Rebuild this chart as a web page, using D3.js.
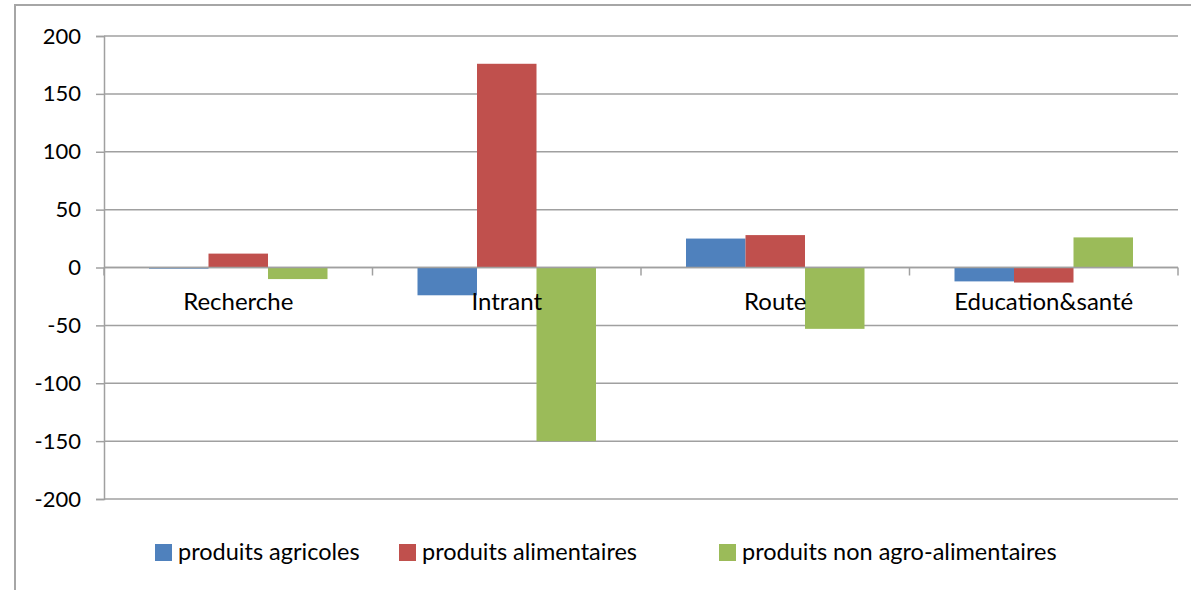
<!DOCTYPE html>
<html>
<head>
<meta charset="utf-8">
<script src="https://cdn.jsdelivr.net/npm/d3@7"></script>
<style>
  body { margin: 0; background: #fff; }
  svg { display: block; font-family: Lato, "Open Sans", sans-serif; }
</style>
</head>
<body>
<div id="Graph"></div>
<script>
// data
const categories = ["Recherche", "Intrant", "Route", "Education&santé"];
const series = ["produits agricoles", "produits alimentaires", "produits non agro-alimentaires"];
const agricoles = [-1, -24, 25, -12];
const alimentaires = [12, 176, 28, -13];
const nonAgro = [-10, -150, -53, 26];
const yTicks = [200, 150, 100, 50, 0, -50, -100, -150, -200];
const colors = ["#4f81bd", "#c0504d", "#9bbb59"];

const values = [agricoles, alimentaires, nonAgro];

const width = 1191;
const height = 590;

const svg = d3.select("#Graph").append("svg")
              .attr("width", width)
              .attr("height", height);

// outer frame (runs off the right and bottom edge)
svg.append("rect")
   .attr("x", 15)
   .attr("y", 5)
   .attr("width", 1200)
   .attr("height", 600)
   .attr("fill", "none")
   .attr("stroke", "#a6a6a6")
   .attr("stroke-width", 2);

const plotLeft = 104, plotRight = 1178;

const y = d3.scaleLinear()
            .domain([-200, 200])
            .range([499, 36]);

const x0 = d3.scaleBand()
             .domain(categories)
             .range([plotLeft, plotRight]);

const x1 = d3.scaleBand()
             .domain(series)
             .range([45, x0.bandwidth() - 45]);

// gridlines + left axis
const yAxis = svg.append("g")
   .attr("transform", `translate(${plotLeft},0)`)
   .call(d3.axisLeft(y)
           .tickValues(yTicks)
           .tickSize(8)
           .tickPadding(15)
           .tickFormat(d => d));
yAxis.select(".domain").attr("stroke", "#a0a0a0").attr("stroke-width", 1.5);
yAxis.selectAll(".tick line").attr("stroke", "#a0a0a0").attr("stroke-width", 1.5);
yAxis.selectAll(".tick text")
     .attr("font-size", 22)
     .attr("fill", "#000")
     .attr("font-family", "Lato, sans-serif");

svg.append("g")
   .selectAll("line")
   .data(yTicks)
   .enter().append("line")
   .attr("x1", plotLeft)
   .attr("x2", plotRight)
   .attr("y1", d => y(d))
   .attr("y2", d => y(d))
   .attr("stroke", "#a0a0a0")
   .attr("stroke-width", 1.5);

// bars
const groups = svg.append("g")
   .selectAll("g")
   .data(categories)
   .enter().append("g")
   .attr("transform", d => `translate(${x0(d)},0)`);

groups.selectAll("rect")
   .data((c, i) => series.map((s, j) => ({ s: s, v: values[j][i], color: colors[j] })))
   .enter().append("rect")
   .attr("x", d => x1(d.s))
   .attr("width", x1.bandwidth())
   .attr("y", d => y(Math.max(0, d.v)))
   .attr("height", d => Math.abs(y(d.v) - y(0)))
   .attr("fill", d => d.color);

// category axis along zero
const xAxis = svg.append("g")
   .attr("transform", `translate(0,${y(0)})`);
xAxis.append("line")
   .attr("x1", plotLeft).attr("x2", plotRight)
   .attr("stroke", "#a0a0a0").attr("stroke-width", 1.5);
xAxis.selectAll(".cat-tick")
   .data(categories.map(c => x0(c)).concat([plotRight]))
   .enter().append("line")
   .attr("x1", d => d).attr("x2", d => d)
   .attr("y1", 0).attr("y2", 8)
   .attr("stroke", "#a0a0a0").attr("stroke-width", 1.5);
xAxis.selectAll("text")
   .data(categories)
   .enter().append("text")
   .attr("x", d => x0(d) + x0.bandwidth() / 2)
   .attr("y", 42)
   .attr("text-anchor", "middle")
   .attr("font-size", 24)
   .attr("fill", "#000")
   .text(d => d);

// legend
const legendX = [155, 399, 719];
const legend = svg.append("g").attr("transform", "translate(0,544)");
const item = legend.selectAll("g")
   .data(series)
   .enter().append("g")
   .attr("transform", (d, i) => `translate(${legendX[i]},0)`);
item.append("rect")
   .attr("width", 17)
   .attr("height", 17)
   .attr("fill", (d, i) => colors[i]);
item.append("text")
   .attr("x", 23)
   .attr("y", 16)
   .attr("font-size", 23.5)
   .attr("fill", "#000")
   .text(d => d);
</script>
</body>
</html>
